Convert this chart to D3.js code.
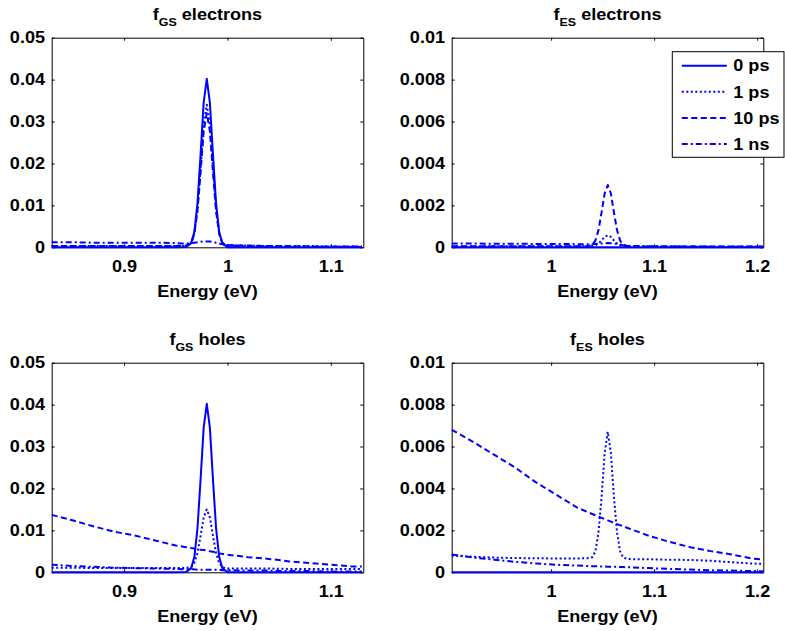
<!DOCTYPE html>
<html><head><meta charset="utf-8">
<script src="https://cdn.jsdelivr.net/npm/d3@7"></script>
<style>
body{margin:0;background:#fff}
svg{display:block}
text{font-family:"Liberation Sans",Arial,Helvetica,sans-serif;font-weight:bold}
</style>
</head><body>
<svg id="chart" width="785" height="631"></svg>
<script>
// ---------- data ----------
const seriesNames = ["0 ps", "1 ps", "10 ps", "1 ns"];

const energyGS = [0.83, 0.85, 0.87, 0.89, 0.91, 0.93, 0.95, 0.96, 0.965, 0.968, 0.971, 0.974, 0.977, 0.98, 0.983, 0.986, 0.989, 0.992, 0.995, 1.0, 1.02, 1.04, 1.06, 1.08, 1.1, 1.12, 1.13];
const energyES = [0.9035, 0.925, 0.945, 0.965, 0.985, 1.005, 1.025, 1.035, 1.04, 1.043, 1.046, 1.049, 1.052, 1.055, 1.058, 1.061, 1.064, 1.067, 1.07, 1.075, 1.095, 1.115, 1.135, 1.155, 1.175, 1.195, 1.206];

const gsElectrons_0ps  = [0,0,0,0,0,0,0,0.0001,0.001,0.0037,0.0105,0.0221,0.0345,0.0402,0.0345,0.0221,0.0105,0.0037,0.001,0,0,0,0,0,0,0,0];
const gsElectrons_1ps  = [0.0003,0.0003,0.0003,0.0003,0.0003,0.0003,0.0003,0.0004,0.0011,0.0034,0.0091,0.0189,0.0294,0.0340,0.0294,0.0189,0.0091,0.0034,0.0011,0.0005,0.0004,0.0003,0.0003,0.0003,0.0002,0.0002,0.0002];
const gsElectrons_10ps = [0.0003,0.0003,0.0003,0.0003,0.0003,0.0003,0.0003,0.0004,0.0010,0.0032,0.0086,0.0178,0.0277,0.0320,0.0277,0.0178,0.0086,0.0032,0.0010,0.0005,0.0004,0.0003,0.0003,0.0002,0.0002,0.0002,0.0002];
const gsElectrons_1ns  = [0.0012,0.0012,0.0011,0.0011,0.0011,0.0011,0.0010,0.0009,0.0010,0.0011,0.0012,0.0013,0.0014,0.0014,0.0014,0.0013,0.0011,0.0009,0.0007,0.0004,0.0002,0.0001,0.0001,0.0001,0.0001,0.0001,0.0001];

const esElectrons_0ps  = [0,0,0,0,0,0,0,0,0,0,0,0,0,0,0,0,0,0,0,0,0,0,0,0,0,0,0];
const esElectrons_1ps  = [0.00005,0.00005,0.00005,0.00005,0.00005,0.00005,0.00005,0.00005,0.00006,0.00010,0.00018,0.00033,0.00050,0.00057,0.00050,0.00033,0.00018,0.00010,0.00006,0.00005,0.00004,0.00004,0.00003,0.00003,0.00003,0.00003,0.00003];
const esElectrons_10ps = [0.00005,0.00005,0.00005,0.00005,0.00005,0.00005,0.00005,0.00005,0.00012,0.00032,0.00082,0.00167,0.00257,0.00297,0.00257,0.00167,0.00082,0.00032,0.00012,0.00005,0.00004,0.00004,0.00004,0.00004,0.00004,0.00004,0.00004];
const esElectrons_1ns  = [0.00018,0.00018,0.00017,0.00017,0.00016,0.00016,0.00015,0.00015,0.00015,0.00016,0.00017,0.00018,0.00019,0.00020,0.00019,0.00018,0.00016,0.00013,0.00010,0.00007,0.00005,0.00004,0.00004,0.00003,0.00003,0.00003,0.00003];

const gsHoles_0ps  = [0,0,0,0,0,0,0,0.0001,0.001,0.0037,0.0105,0.0221,0.0345,0.0402,0.0345,0.0221,0.0105,0.0037,0.001,0,0,0,0,0,0,0,0];
const gsHoles_1ps  = [0.0011,0.0011,0.0010,0.0010,0.0010,0.0010,0.0010,0.0010,0.0013,0.0023,0.0046,0.0087,0.0131,0.0150,0.0131,0.0087,0.0046,0.0022,0.0012,0.0009,0.0009,0.0009,0.0008,0.0008,0.0008,0.0008,0.0008];
const gsHoles_10ps = [0.0137,0.0124,0.0110,0.0097,0.0088,0.0076,0.0064,0.0060,0.0058,0.0057,0.0056,0.0054,0.0053,0.0052,0.0050,0.0049,0.0047,0.0045,0.0044,0.0042,0.0036,0.0032,0.0026,0.0022,0.0018,0.0014,0.0014];
const gsHoles_1ns  = [0.0018,0.0015,0.0013,0.0011,0.0010,0.0009,0.0008,0.0007,0.0007,0.0007,0.0006,0.0006,0.0006,0.0006,0.0006,0.0006,0.0006,0.0006,0.0005,0.0005,0.0004,0.0004,0.0003,0.0003,0.0002,0.0002,0.0002];

const esHoles_0ps  = [0,0,0,0,0,0,0,0,0,0,0,0,0,0,0,0,0,0,0,0,0,0,0,0,0,0,0];
const esHoles_1ps  = [0.00080,0.00074,0.00070,0.00068,0.00067,0.00066,0.00066,0.00067,0.00072,0.00100,0.00190,0.00360,0.00570,0.00670,0.00570,0.00360,0.00190,0.00100,0.00070,0.00063,0.00062,0.00060,0.00059,0.00055,0.00048,0.00042,0.00040];
const esHoles_10ps = [0.0068,0.0062,0.0056,0.0050,0.0043,0.0037,0.0031,0.00288,0.00278,0.00272,0.00266,0.0026,0.00254,0.00248,0.00242,0.00236,0.0023,0.00225,0.0022,0.0021,0.00174,0.00145,0.0012,0.00101,0.00085,0.00066,0.0006];
const esHoles_1ns  = [0.00085,0.0007,0.0006,0.0005,0.00042,0.00036,0.00032,0.0003,0.00029,0.00029,0.00028,0.00028,0.00028,0.00027,0.00027,0.00026,0.00026,0.00025,0.00025,0.00024,0.0002,0.00016,0.00013,0.0001,0.00008,0.00006,0.00005];

const xDomainGS = [0.83, 1.1314];
const xDomainES = [0.9035, 1.206];
const xTicksGS = [0.9, 1, 1.1];
const xTicksES = [1, 1.1, 1.2];
const yTicksGS = [0, 0.01, 0.02, 0.03, 0.04, 0.05];
const yTicksES = [0, 0.002, 0.004, 0.006, 0.008, 0.01];
const titleSubs = ["GS", "ES", "GS", "ES"];
const titleRests = [" electrons", " electrons", " holes", " holes"];
const xLabel = "Energy (eV)";

// ---------- drawing ----------
const SX = 1.13;          // horizontal stretch of text (MATLAB Helvetica look)
const FS = 16;
const W = 311.6, H = 209.6;
const BLUE = "#0000ff";
const dashes = [null, "2,2.5", "6,3.5", "6,3,2,3"];

const svg = d3.select("#chart");
svg.append("rect").attr("width", 785).attr("height", 631).attr("fill", "#fff");

const panels = [
  {left: 51.7,  top: 37.7,  en: energyGS, series: [gsElectrons_0ps, gsElectrons_1ps, gsElectrons_10ps, gsElectrons_1ns], xd: xDomainGS, yd: [0, 0.05], xt: xTicksGS, yt: yTicksGS},
  {left: 451.7, top: 37.7,  en: energyES, series: [esElectrons_0ps, esElectrons_1ps, esElectrons_10ps, esElectrons_1ns], xd: xDomainES, yd: [0, 0.01], xt: xTicksES, yt: yTicksES},
  {left: 51.7,  top: 362.7, en: energyGS, series: [gsHoles_0ps, gsHoles_1ps, gsHoles_10ps, gsHoles_1ns], xd: xDomainGS, yd: [0, 0.05], xt: xTicksGS, yt: yTicksGS},
  {left: 451.7, top: 362.7, en: energyES, series: [esHoles_0ps, esHoles_1ps, esHoles_10ps, esHoles_1ns], xd: xDomainES, yd: [0, 0.01], xt: xTicksES, yt: yTicksES}
];

function styleAxis(s) {
  s.attr("font-size", FS).attr("font-family", '"Liberation Sans",Arial,sans-serif').attr("font-weight", "bold");
  s.selectAll(".domain").attr("stroke", "#000").attr("stroke-width", 1);
  s.selectAll(".tick line").attr("stroke", "#000").attr("stroke-width", 1);
  s.selectAll(".tick text").attr("fill", "#000");
}

panels.forEach((p, pi) => {
  const g = svg.append("g").attr("transform", `translate(${p.left},${p.top})`);
  const x = d3.scaleLinear().domain(p.xd).range([0, W]);
  const y = d3.scaleLinear().domain(p.yd).range([H, 0]);
  const fmt = d => String(d);

  // axes (ticks inside, box on)
  const gb = g.append("g").attr("transform", `translate(0,${H})`)
    .call(d3.axisBottom(x).tickValues(p.xt).tickSize(-3).tickSizeOuter(0).tickPadding(13.6).tickFormat(fmt));
  styleAxis(gb);
  gb.selectAll(".tick text").attr("transform", `scale(${SX},1)`);

  const gl = g.append("g")
    .call(d3.axisLeft(y).tickValues(p.yt).tickSize(-3).tickSizeOuter(0).tickPadding(6.7).tickFormat(fmt));
  styleAxis(gl);
  gl.selectAll(".tick text").attr("x", -6.7 / SX).attr("transform", `scale(${SX},1)`);

  const gt = g.append("g")
    .call(d3.axisTop(x).tickValues(p.xt).tickSize(-3).tickSizeOuter(0).tickFormat(""));
  styleAxis(gt);
  const gr = g.append("g").attr("transform", `translate(${W},0)`)
    .call(d3.axisRight(y).tickValues(p.yt).tickSize(-3).tickSizeOuter(0).tickFormat(""));
  styleAxis(gr);

  // data lines
  const line = d3.line().x((d, i) => x(p.en[i])).y(d => y(d));
  p.series.forEach((vals, si) => {
    g.append("path").datum(vals)
      .attr("d", line)
      .attr("fill", "none")
      .attr("stroke", BLUE)
      .attr("stroke-width", 2)
      .attr("stroke-linejoin", "round")
      .attr("stroke-dasharray", dashes[si]);
  });

  // title
  const t = g.append("text")
    .attr("x", (W / 2) / SX).attr("y", -17.7)
    .attr("transform", `scale(${SX},1)`)
    .attr("text-anchor", "middle").attr("font-size", FS).attr("fill", "#000");
  t.append("tspan").text("f");
  t.append("tspan").attr("font-size", 11).attr("dy", 6).text(titleSubs[pi]);
  t.append("tspan").attr("dy", -6).text(titleRests[pi]);

  // x label
  g.append("text")
    .attr("x", (W / 2) / SX).attr("y", H + 50)
    .attr("transform", `scale(${SX},1)`)
    .attr("text-anchor", "middle").attr("font-size", FS).attr("fill", "#000")
    .text(xLabel);
});

// legend (in top-right panel)
const lg = svg.append("g").attr("transform", "translate(672.3,51.7)");
lg.append("rect").attr("width", 111.7).attr("height", 105.6)
  .attr("fill", "#fff").attr("stroke", "#000").attr("stroke-width", 1);
seriesNames.forEach((name, i) => {
  const yy = 14 + i * 26.1;
  lg.append("line").attr("x1", 9.5).attr("x2", 54.5).attr("y1", yy).attr("y2", yy)
    .attr("stroke", BLUE).attr("stroke-width", 2).attr("stroke-dasharray", dashes[i]);
  lg.append("text").attr("x", 61 / SX).attr("y", yy).attr("dy", "0.36em")
    .attr("transform", `scale(${SX},1)`)
    .attr("font-size", FS).attr("fill", "#000").text(name);
});
</script>
</body></html>
